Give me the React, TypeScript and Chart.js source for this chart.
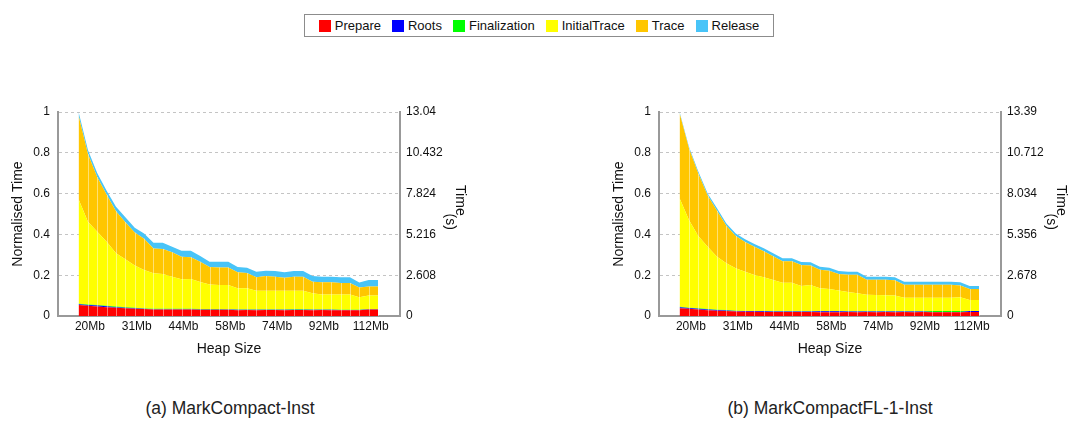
import React, { useEffect, useRef } from "react";
import { Chart, registerables } from "chart.js";
Chart.register(...registerables);

// ---- data ----
const heapSizes = [18, 20, 22, 24, 26, 29, 31, 33, 36, 38, 41, 44, 46, 49, 52, 55, 58, 61, 64, 67, 71, 74, 78, 81, 85, 88, 92, 96, 100, 104, 108, 112, 116];
const heapTickIndices = [1, 6, 11, 16, 21, 26, 31];
const seriesNames = ["Prepare", "Roots", "Finalization", "InitialTrace", "Trace", "Release"];
const seriesColors = ["#ff0000", "#0000ff", "#00ff00", "#ffff00", "#ffc600", "#48c4f8"];
const leftTicks = [0, 0.2, 0.4, 0.6, 0.8, 1];
const timeTicksA = [0, 2.608, 5.216, 7.824, 10.432, 13.04];
const timeTicksB = [0, 2.678, 5.356, 8.034, 10.712, 13.39];

// (a) MarkCompact-Inst
const aPrepare = [0.054, 0.050, 0.047, 0.043, 0.040, 0.038, 0.036, 0.034, 0.032, 0.032, 0.032, 0.032, 0.032, 0.031, 0.031, 0.031, 0.031, 0.028, 0.030, 0.028, 0.030, 0.030, 0.028, 0.030, 0.030, 0.028, 0.030, 0.028, 0.028, 0.028, 0.028, 0.032, 0.032];
const aRoots = [0.004, 0.004, 0.005, 0.005, 0.003, 0.002, 0.002, 0.001, 0.001, 0.001, 0.001, 0.001, 0.001, 0.001, 0.001, 0.001, 0.001, 0.003, 0.001, 0.003, 0.001, 0.001, 0.003, 0.001, 0.001, 0.003, 0.001, 0.003, 0.001, 0.001, 0.001, 0.001, 0.001];
const aFinalization = [0.002, 0.002, 0.002, 0.002, 0.003, 0.003, 0.002, 0.002, 0.002, 0.002, 0.002, 0.002, 0.002, 0.002, 0.002, 0.002, 0.001, 0.001, 0.001, 0.001, 0.001, 0.001, 0.001, 0.002, 0.002, 0.001, 0.001, 0.001, 0.002, 0.002, 0.002, 0.001, 0.001];
const aInitialTrace = [0.512, 0.406, 0.359, 0.314, 0.261, 0.235, 0.207, 0.188, 0.174, 0.171, 0.158, 0.145, 0.146, 0.133, 0.121, 0.118, 0.119, 0.104, 0.104, 0.092, 0.092, 0.092, 0.092, 0.091, 0.091, 0.079, 0.074, 0.074, 0.075, 0.075, 0.061, 0.066, 0.066];
const aTrace = [0.410, 0.332, 0.267, 0.230, 0.207, 0.182, 0.162, 0.154, 0.122, 0.123, 0.119, 0.110, 0.107, 0.099, 0.085, 0.086, 0.086, 0.078, 0.075, 0.066, 0.072, 0.069, 0.063, 0.069, 0.068, 0.057, 0.059, 0.059, 0.056, 0.056, 0.048, 0.044, 0.044];
const aRelease = [0.018, 0.020, 0.020, 0.020, 0.022, 0.024, 0.024, 0.026, 0.028, 0.030, 0.028, 0.030, 0.032, 0.028, 0.026, 0.028, 0.028, 0.026, 0.026, 0.027, 0.026, 0.027, 0.027, 0.027, 0.028, 0.028, 0.028, 0.028, 0.028, 0.028, 0.024, 0.032, 0.032];

// (b) MarkCompactFL-1-Inst
const bPrepare = [0.038, 0.035, 0.032, 0.028, 0.026, 0.024, 0.022, 0.021, 0.021, 0.020, 0.020, 0.020, 0.020, 0.020, 0.020, 0.018, 0.018, 0.018, 0.020, 0.018, 0.020, 0.018, 0.020, 0.018, 0.020, 0.018, 0.020, 0.018, 0.018, 0.018, 0.018, 0.020, 0.020];
const bRoots = [0.005, 0.004, 0.004, 0.004, 0.003, 0.003, 0.003, 0.003, 0.003, 0.003, 0.002, 0.002, 0.002, 0.002, 0.002, 0.005, 0.005, 0.005, 0.002, 0.004, 0.002, 0.004, 0.002, 0.004, 0.002, 0.004, 0.002, 0.002, 0.002, 0.002, 0.002, 0.004, 0.004];
const bFinalization = [0.002, 0.002, 0.002, 0.002, 0.002, 0.002, 0.001, 0.001, 0.001, 0.001, 0.001, 0.001, 0.001, 0.001, 0.001, 0.001, 0.001, 0.001, 0.001, 0.001, 0.001, 0.001, 0.001, 0.001, 0.001, 0.001, 0.001, 0.004, 0.004, 0.004, 0.004, 0.001, 0.001];
const bInitialTrace = [0.532, 0.430, 0.354, 0.306, 0.260, 0.229, 0.208, 0.192, 0.176, 0.166, 0.153, 0.140, 0.140, 0.124, 0.129, 0.112, 0.108, 0.101, 0.095, 0.088, 0.081, 0.080, 0.079, 0.077, 0.067, 0.067, 0.067, 0.066, 0.066, 0.066, 0.068, 0.053, 0.053];
const bTrace = [0.417, 0.351, 0.306, 0.251, 0.225, 0.184, 0.158, 0.146, 0.138, 0.128, 0.117, 0.105, 0.105, 0.103, 0.096, 0.091, 0.090, 0.081, 0.084, 0.091, 0.074, 0.075, 0.076, 0.075, 0.063, 0.063, 0.063, 0.063, 0.063, 0.063, 0.058, 0.054, 0.054];
const bRelease = [0.006, 0.008, 0.010, 0.010, 0.012, 0.012, 0.013, 0.013, 0.014, 0.014, 0.014, 0.015, 0.015, 0.015, 0.015, 0.015, 0.015, 0.015, 0.015, 0.015, 0.015, 0.015, 0.015, 0.015, 0.015, 0.015, 0.015, 0.015, 0.015, 0.015, 0.015, 0.015, 0.015];

const FONT = "'Liberation Sans', Arial, Helvetica, sans-serif";
const TEXT = "#111";

const seamPlugin = {
  id: "seams",
  afterDatasetsDraw(chart: any) {
    const { ctx, scales } = chart;
    const xs = scales.x;
    const ys = scales.y;
    const ds = chart.data.datasets;
    const n = ds[0].data.length;
    ctx.save();
    ctx.strokeStyle = "rgba(255,255,255,0.45)";
    ctx.lineWidth = 1;
    for (let i = 1; i < n; i++) {
      let tot = 0;
      for (let k = 0; k < ds.length - 1; k++) tot += ds[k].data[i].y;
      const x = Math.round(xs.getPixelForValue(i)) + 0.5;
      ctx.beginPath();
      ctx.moveTo(x, ys.getPixelForValue(0));
      ctx.lineTo(x, ys.getPixelForValue(tot));
      ctx.stroke();
    }
    ctx.restore();
  },
};

function StackChart({ series, timeTicks, left }: { series: number[][]; timeTicks: number[]; left: number }) {
  const ref = useRef<HTMLCanvasElement | null>(null);
  useEffect(() => {
    if (!ref.current) return;
    const datasets = series.map((vals, k) => ({
      label: seriesNames[k],
      data: vals.map((v, i) => ({ x: i, y: v })),
      backgroundColor: seriesColors[k],
      borderColor: seriesColors[k],
      borderWidth: 0,
      pointRadius: 0,
      fill: k === 0 ? "origin" : "-1",
      tension: 0,
      yAxisID: "y",
    }));
    const chart = new Chart(ref.current, {
      type: "line",
      data: { datasets },
      plugins: [seamPlugin],
      options: {
        animation: false,
        responsive: false,
        layout: { padding: { top: 16, left: 6, right: 11, bottom: 0 } },
        plugins: { legend: { display: false }, tooltip: { enabled: false } },
        scales: {
          x: {
            type: "linear",
            min: -2.2,
            max: 34.35,
            afterBuildTicks: (s: any) => {
              s.ticks = heapTickIndices.map((v) => ({ value: v }));
            },
            afterFit: (s: any) => {
              s.height = 42;
            },
            ticks: {
              callback: (v: any) => heapSizes[v] + "Mb",
              font: { family: FONT, size: 12 },
              color: TEXT,
              padding: 3,
              labelOffset: 2,
              maxRotation: 0,
              autoSkip: false,
            },
            grid: { display: false, drawTicks: false },
            border: { display: true, color: "#999", width: 2 },
            title: { display: true, text: "Heap Size", font: { family: FONT, size: 14 }, color: TEXT, padding: { top: 4, bottom: 0 } },
          },
          y: {
            type: "linear",
            position: "left",
            stacked: true,
            min: 0,
            max: 1,
            afterBuildTicks: (s: any) => {
              s.ticks = leftTicks.map((v) => ({ value: v }));
            },
            afterFit: (s: any) => {
              s.width = 52;
            },
            ticks: { callback: (v: any) => String(v), font: { family: FONT, size: 12 }, color: TEXT, padding: 8 },
            grid: { color: "#c4c4c4", lineWidth: 1, drawTicks: false },
            border: { display: true, color: "#999", width: 2, dash: [3, 3] },
            title: { display: true, text: "Normalised Time", font: { family: FONT, size: 14 }, color: TEXT, padding: { top: 4, bottom: 4 } },
          },
          y2: {
            type: "linear",
            position: "right",
            min: 0,
            max: timeTicks[timeTicks.length - 1],
            afterBuildTicks: (s: any) => {
              s.ticks = timeTicks.map((v) => ({ value: v }));
            },
            afterFit: (s: any) => {
              s.width = 69;
            },
            ticks: { callback: (v: any) => String(v), font: { family: FONT, size: 12 }, color: TEXT, padding: 6 },
            grid: { display: false, drawTicks: false },
            border: { display: true, color: "#999", width: 2 },
            title: {
              display: true,
              text: ["Time       ", "    (s)"],
              font: { family: FONT, size: 14, lineHeight: 0.7 },
              color: TEXT,
              padding: { top: 4, bottom: 4 },
            },
          },
        },
      } as any,
    } as any);
    return () => chart.destroy();
  }, []);
  return (
    <canvas
      ref={ref}
      width={480}
      height={262}
      style={{ position: "absolute", left, top: 96, width: 480, height: 262 }}
    />
  );
}

export default function App() {
  const seriesA = [aPrepare, aRoots, aFinalization, aInitialTrace, aTrace, aRelease];
  const seriesB = [bPrepare, bRoots, bFinalization, bInitialTrace, bTrace, bRelease];
  return (
    <div style={{ position: "absolute", left: 0, top: 0, width: 1072, height: 432, background: "#fff", overflow: "hidden" }}>
      <div
        style={{
          position: "absolute",
          left: 304,
          top: 14,
          width: 470,
          height: 23,
          boxSizing: "border-box",
          border: "1px solid #8c8c8c",
          display: "flex",
          alignItems: "center",
          justifyContent: "center",
          gap: 11,
          fontFamily: FONT,
          fontSize: 13,
          color: TEXT,
        }}
      >
        {seriesNames.map((n, k) => (
          <div key={n} style={{ display: "flex", alignItems: "center", gap: 4 }}>
            <span style={{ display: "inline-block", width: 12, height: 12, background: seriesColors[k] }} />
            <span>{n}</span>
          </div>
        ))}
      </div>
      <StackChart series={seriesA} timeTicks={timeTicksA} left={0} />
      <StackChart series={seriesB} timeTicks={timeTicksB} left={601} />
      <div style={{ position: "absolute", left: 30, width: 400, top: 398, textAlign: "center", fontFamily: FONT, fontSize: 17.5, color: "#222" }}>
        (a) MarkCompact-Inst
      </div>
      <div style={{ position: "absolute", left: 630, width: 400, top: 398, textAlign: "center", fontFamily: FONT, fontSize: 17.5, color: "#222" }}>
        (b) MarkCompactFL-1-Inst
      </div>
    </div>
  );
}
